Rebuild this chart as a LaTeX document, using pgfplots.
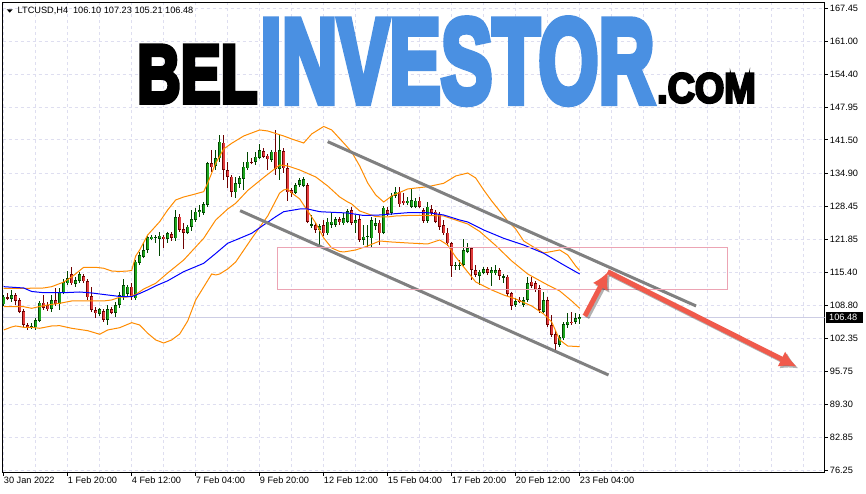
\documentclass[border=0pt]{standalone}
\usepackage{pgfplots}
\pgfplotsset{compat=1.18}
\usepackage{pgfplotstable}
\usepackage{fontspec}
\usetikzlibrary{arrows.meta}
\setmainfont{Liberation Sans}
\newfontfamily\logofat{Liberation Sans Bold}[FakeBold=6]

\definecolor{gridc}{RGB}{222,222,240}
\definecolor{pricec}{RGB}{205,205,228}
\definecolor{bandc}{RGB}{255,140,0}
\definecolor{bullin}{RGB}{30,165,30}
\definecolor{bullout}{RGB}{0,70,0}
\definecolor{bearin}{RGB}{225,60,60}
\definecolor{bearout}{RGB}{110,0,0}
\definecolor{chanc}{RGB}{128,128,128}
\definecolor{rectc}{RGB}{236,164,180}
\definecolor{arrowc}{RGB}{240,90,75}
\definecolor{logoblue}{RGB}{74,144,226}

% LTCUSD H4 candles: bar index, open, high, low, close
\pgfplotstableread{
i o h l c
0 109.07 110.91 108.74 110.57
1 110.45 111.22 109.92 110.18
2 110.12 111.89 109.59 110.91
3 110.91 111.05 108.88 109.78
4 109.92 110.06 107.41 107.61
5 107.75 107.94 104.53 104.99
6 104.99 105.44 104.00 104.53
7 104.66 105.32 104.14 104.79
8 104.53 106.23 104.00 105.97
9 105.83 109.59 105.64 109.39
10 109.39 110.91 107.94 108.40
11 108.93 109.59 107.80 108.08
12 108.14 110.91 107.61 109.92
13 109.92 112.23 108.93 109.13
14 109.13 112.23 107.94 111.44
15 111.36 114.00 111.10 113.41
16 113.21 115.69 112.88 114.20
17 114.98 116.37 112.88 113.21
18 113.07 114.51 112.54 113.86
19 113.72 115.38 113.33 114.98
20 114.65 114.98 113.21 113.60
21 113.66 114.00 109.92 110.45
22 110.71 112.54 107.75 107.94
23 107.94 108.60 106.30 107.29
24 107.15 108.27 106.76 108.08
25 107.75 108.20 105.64 105.97
26 105.97 108.93 104.99 108.08
27 108.08 108.60 107.15 107.41
28 107.41 109.59 106.50 108.93
29 108.93 111.56 108.27 110.91
30 110.57 114.00 109.92 112.88
31 111.10 112.88 110.71 112.54
32 112.54 113.27 109.92 110.45
33 110.25 117.80 110.12 117.47
34 117.27 119.38 116.82 118.79
35 118.45 121.10 118.14 119.78
36 119.78 122.74 119.24 122.28
37 122.01 122.74 121.75 122.40
38 122.28 122.34 121.10 122.30
39 122.01 123.39 118.60 122.60
40 122.40 122.74 120.11 122.01
41 122.01 123.19 121.22 123.07
42 122.93 123.07 121.61 122.14
43 122.08 127.67 121.61 126.22
44 126.34 126.82 123.39 123.72
45 123.92 125.16 119.97 123.19
46 123.19 124.71 123.07 124.37
47 124.37 127.67 123.53 125.89
48 125.69 128.00 125.36 127.33
49 127.33 128.65 126.34 127.67
50 127.14 128.99 126.68 128.85
51 128.65 137.00 128.45 136.88
52 136.88 139.50 135.22 136.09
53 136.40 139.50 135.55 137.86
54 137.86 142.46 137.19 141.14
55 140.94 142.46 133.58 135.55
56 135.55 137.19 131.94 134.23
57 134.23 134.57 130.17 131.27
58 131.16 134.23 130.09 132.93
59 132.74 134.43 132.07 133.92
60 133.78 137.19 131.61 136.21
61 135.89 139.17 135.75 137.19
62 137.19 137.98 136.88 136.99
63 137.19 139.17 136.54 138.17
64 137.98 140.62 137.86 139.50
65 139.30 139.84 137.98 138.17
66 138.37 138.65 135.55 137.66
67 137.53 139.50 137.33 139.17
68 139.17 143.44 134.57 135.75
69 135.75 142.46 133.58 139.50
70 139.30 139.84 134.91 135.89
71 135.89 136.88 129.44 131.16
72 131.61 131.81 130.29 131.08
73 131.08 132.93 130.82 132.60
74 132.60 133.92 132.26 133.58
75 132.46 133.92 132.26 133.78
76 132.60 132.93 125.04 125.36
77 124.71 126.68 124.18 124.85
78 124.71 125.24 123.07 123.72
79 123.72 124.71 120.62 124.51
80 124.71 125.69 122.60 123.07
81 123.07 126.03 122.74 125.36
82 124.71 127.21 124.06 125.36
83 124.71 126.34 124.37 125.89
84 125.89 126.15 124.71 125.24
85 125.04 127.02 124.71 126.03
86 125.36 127.80 125.04 127.47
87 127.67 128.32 124.71 125.16
88 125.04 126.68 123.13 125.69
89 125.83 126.68 121.55 121.75
90 121.75 124.71 120.76 122.40
91 122.40 124.71 120.11 122.54
92 122.08 126.34 120.11 125.69
93 124.51 126.09 123.72 125.10
94 125.16 125.69 120.76 123.07
95 123.19 128.32 123.07 128.12
96 127.67 128.32 126.68 126.88
97 127.02 130.96 126.68 130.43
98 130.43 132.14 130.17 131.27
99 131.27 132.14 128.32 128.79
100 129.50 130.96 128.65 128.99
101 128.99 130.29 128.85 129.50
102 128.32 131.94 128.20 129.64
103 128.32 129.97 128.00 129.50
104 129.50 130.29 128.20 128.32
105 127.67 128.00 125.04 125.50
106 125.50 129.30 125.36 128.32
107 127.80 128.65 126.68 127.02
108 127.33 127.67 125.04 125.36
109 126.88 127.33 123.72 124.37
110 124.71 125.69 122.74 123.07
111 123.19 124.06 120.57 121.10
112 121.10 121.42 114.40 116.62
113 116.76 117.47 115.83 116.82
114 116.62 117.80 115.83 116.82
115 116.82 121.89 116.62 119.78
116 119.45 121.22 119.19 120.11
117 120.11 120.43 113.86 115.83
118 115.83 116.82 114.40 114.85
119 114.65 115.83 112.88 115.50
120 115.30 116.49 115.04 116.03
121 116.03 116.49 114.85 115.30
122 115.17 116.49 112.68 115.83
123 115.17 116.82 114.85 115.83
124 115.83 116.17 113.86 114.65
125 114.40 114.85 113.21 114.65
126 114.51 114.85 110.91 111.10
127 111.22 111.56 107.94 108.74
128 108.93 110.25 108.60 109.72
129 109.92 110.57 109.26 109.59
130 108.93 110.57 108.74 109.92
131 109.92 114.40 109.59 113.21
132 113.53 114.40 112.42 112.68
133 113.21 113.72 111.56 111.89
134 112.23 112.88 107.29 107.94
135 107.61 111.56 107.29 109.92
136 109.92 110.57 104.66 104.99
137 104.99 106.96 102.68 103.01
138 103.21 104.00 99.72 101.24
139 101.04 103.01 100.84 102.56
140 102.35 105.64 102.16 105.18
141 104.99 107.29 104.33 105.64
142 105.64 107.61 104.99 105.32
143 105.64 107.29 105.18 106.30
144 106.10 107.23 105.21 106.48
}\candles

\begin{document}
\begin{tikzpicture}
\path[use as bounding box, fill=white] (0pt,0pt) rectangle (866pt,494pt);
\begin{axis}[
  at={(2.7pt,21pt)}, anchor=south west,
  scale only axis, width=822pt, height=470.3pt,
  xmin=-0.25, xmax=205.25, ymin=75.79, ymax=168.55,
  axis line style={black, line width=1pt},
  tick align=outside, major tick length=3pt,
  every tick/.style={black, line width=0.8pt},
  xtick pos=left, ytick pos=right, yticklabel pos=right,
  xtick={0,16,...,144},
  xticklabels={30 Jan 2022, 1 Feb 20:00, 4 Feb 12:00, 7 Feb 04:00, 9 Feb 20:00,
    12 Feb 12:00, 15 Feb 04:00, 17 Feb 20:00, 20 Feb 12:00, 23 Feb 04:00},
  minor xtick={8,24,40,56,72,88,104,120,136,152,160,168,176,184,192,200},
  minor tick length=0pt,
  ytick={76.25,82.85,89.30,95.75,102.35,108.80,115.40,121.85,128.45,134.90,141.50,147.95,154.40,161.00,167.45},
  yticklabels={76.25,82.85,89.30,95.75,102.35,108.80,115.40,121.85,128.45,134.90,141.50,147.95,154.40,161.00,167.45},
  xmajorgrids, xminorgrids, ymajorgrids,
  major grid style={gridc, line width=0.8pt, dash pattern=on 3pt off 3pt},
  minor grid style={gridc, line width=0.8pt, dash pattern=on 3pt off 3pt},
  ticklabel style={font=\fontsize{9.2}{10}\selectfont, inner sep=0pt},
  xticklabel style={anchor=north west, yshift=-1pt},
  yticklabel style={anchor=west, xshift=2pt},
]
% current price line
\draw[pricec, line width=1pt] (-0.25,106.48) -- (205.25,106.48);

% wicks
\addplot[draw=none, mark=none, forget plot,
  error bars/.cd, y dir=both, y explicit, error mark=none,
  error bar style={draw=bullout, line width=1pt}]
  table[x=i, y expr={\thisrow{c}>=\thisrow{o} ? (\thisrow{h}+\thisrow{l})/2 : nan},
        y error expr={(\thisrow{h}-\thisrow{l})/2}] {\candles};
\addplot[draw=none, mark=none, forget plot,
  error bars/.cd, y dir=both, y explicit, error mark=none,
  error bar style={draw=bearout, line width=1pt}]
  table[x=i, y expr={\thisrow{c}<\thisrow{o} ? (\thisrow{h}+\thisrow{l})/2 : nan},
        y error expr={(\thisrow{h}-\thisrow{l})/2}] {\candles};
% bodies, dark edge
\addplot[draw=none, mark=none, forget plot,
  error bars/.cd, y dir=both, y explicit, error mark=-,
  error mark options={draw=bullout, line width=1pt, mark size=1.7pt},
  error bar style={draw=bullout, line width=3.4pt}]
  table[x=i, y expr={\thisrow{c}>=\thisrow{o} ? (\thisrow{o}+\thisrow{c})/2 : nan},
        y error expr={abs(\thisrow{c}-\thisrow{o})/2}] {\candles};
\addplot[draw=none, mark=none, forget plot,
  error bars/.cd, y dir=both, y explicit, error mark=-,
  error mark options={draw=bearout, line width=1pt, mark size=1.7pt},
  error bar style={draw=bearout, line width=3.4pt}]
  table[x=i, y expr={\thisrow{c}<\thisrow{o} ? (\thisrow{o}+\thisrow{c})/2 : nan},
        y error expr={abs(\thisrow{c}-\thisrow{o})/2}] {\candles};
% bodies, fill
\addplot[draw=none, mark=none, forget plot,
  error bars/.cd, y dir=both, y explicit, error mark=none,
  error bar style={draw=bullin, line width=1.6pt}]
  table[x=i, y expr={\thisrow{c}>=\thisrow{o} ? (\thisrow{o}+\thisrow{c})/2 : nan},
        y error expr={max(abs(\thisrow{c}-\thisrow{o})/2-0.15,0)}] {\candles};
\addplot[draw=none, mark=none, forget plot,
  error bars/.cd, y dir=both, y explicit, error mark=none,
  error bar style={draw=bearin, line width=1.6pt}]
  table[x=i, y expr={\thisrow{c}<\thisrow{o} ? (\thisrow{o}+\thisrow{c})/2 : nan},
        y error expr={max(abs(\thisrow{c}-\thisrow{o})/2-0.15,0)}] {\candles};

% Bollinger bands
\addplot[bandc, line width=1pt] coordinates {
(0,112.22)(6,112.22)(10,112.28)(12,112.54)(15,113.45)(17,114.45)(20,116.36)(23,116.36)
(25,116.17)(27,115.63)(29,115.54)(31,115.63)(32,115.73)(33,118.59)(34,119.78)(36,122.74)
(39,125.36)(41,127.67)(43,129.64)(45,130.23)(47,130.63)(50,131.28)(51,132.99)(53,136.88)
(55,139.70)(57,140.82)(60,142.26)(64,143.45)(66,143.25)(70,142.26)(72,141.67)(75,140.88)
(77,142.66)(80,144.14)(82,143.45)(85,140.88)(87,139.11)(89,136.35)(91,132.99)(93,130.63)
(95,129.24)(97,130.43)(101,131.81)(106,132.26)(110,132.93)(113,134.37)(116,134.96)
(118,133.98)(120,131.61)(122,129.44)(124,127.47)(126,125.50)(128,123.92)(130,121.55)
(132,120.57)(135,119.19)(137,119.48)(139,119.78)(141,118.79)(143,116.62)(144,115.73)};
\addplot[bandc, line width=1pt] coordinates {
(0,108.59)(5,108.59)(7,108.27)(9,108.63)(11,108.93)(14,109.26)(17,109.72)(21,109.72)
(25,109.72)(27,109.92)(29,110.45)(31,110.51)(33,111.00)(35,112.08)(38,113.21)(41,115.24)
(45,117.80)(50,122.09)(53,125.69)(56,127.86)(58,128.99)(61,131.51)(65,134.08)(69,136.54)
(71,136.35)(74,135.56)(78,134.18)(81,132.40)(84,130.23)(86,129.24)(87,128.85)(89,127.47)
(93,126.35)(96,126.29)(98,126.48)(101,126.58)(106,126.58)(110,126.48)(113,125.69)
(116,124.91)(119,123.43)(123,120.66)(127,117.61)(131,115.04)(136,112.87)(139,111.69)
(142,109.72)(144,108.27)};
\addplot[bandc, line width=1pt] coordinates {
(0,104.00)(2,104.59)(3,104.79)(5,104.53)(7,104.53)(9,104.33)(12,104.79)(14,104.85)
(17,104.33)(21,103.86)(24,103.15)(26,104.00)(29,104.45)(32,105.44)(34,104.98)(36,103.35)
(38,102.03)(40,101.43)(42,102.03)(44,103.21)(46,105.77)(48,109.92)(50,112.48)(52,115.04)
(53,114.85)(54,115.04)(56,116.03)(58,117.41)(62,122.05)(66,126.48)(69,131.02)(70,131.61)
(71,131.81)(72,131.02)(74,129.84)(76,127.47)(78,125.10)(80,122.15)(82,120.17)(84,119.48)
(85,119.38)(88,119.78)(91,120.57)(94,121.55)(97,121.35)(101,121.16)(106,120.96)
(109,121.75)(111,120.76)(113,118.40)(115,116.42)(118,113.47)(122,111.89)(125,110.90)
(128,110.11)(132,108.73)(135,107.15)(137,105.58)(139,102.03)(141,100.84)(144,100.71)};
% moving average
\addplot[blue, line width=1pt] coordinates {
(0,112.54)(5,112.28)(7,111.59)(10,111.35)(15,111.35)(19,111.49)(22,111.30)(25,111.00)
(29,110.61)(32,110.57)(34,111.20)(36,111.90)(38,112.70)(41,113.70)(45,115.50)(50,117.15)
(53,119.09)(56,121.10)(58,121.75)(62,123.07)(65,124.71)(68,126.34)(70,127.33)(74,127.86)
(76,127.86)(79,127.33)(82,127.21)(86,127.07)(90,126.58)(94,126.68)(97,126.88)(101,127.13)
(106,127.13)(110,126.68)(114,125.69)(116,125.30)(120,123.72)(125,122.08)(130,120.76)
(135,119.13)(140,116.82)(144,115.04)};

% channel, zone and arrows
\draw[chanc, line width=3pt] (81.0,141.14) -- (173.1,108.73);
\draw[chanc, line width=3pt] (59.1,127.53) -- (151.2,95.12);
\draw[rectc, line width=1pt] (68.4,112.03) rectangle (180.9,120.31);
\draw[black, opacity=0.3, line width=5pt, -{Latex[length=17pt,width=17pt]}]
  (145.8,106.4) -- (151.6,115.1);
\draw[black, opacity=0.3, line width=5pt, -{Latex[length=17pt,width=17pt]}]
  (151.5,115.1) -- (198.7,96.4);
\draw[arrowc, line width=5pt, -{Latex[length=17pt,width=17pt]}]
  (145.3,106.76) -- (151.15,115.50);
\draw[arrowc, line width=5pt, -{Latex[length=17pt,width=17pt]}]
  (151.0,115.5) -- (198.25,96.76);
\end{axis}

% header
\fill[black] (6.7pt,484.7pt) -- (12.7pt,484.7pt) -- (9.7pt,481.3pt) -- cycle;
\node[anchor=base west, inner sep=0pt, font=\fontsize{9.2}{10}\selectfont]
  at (17.5pt,480.5pt) {LTCUSD,H4\hspace{5pt}106.10 107.23 105.21 106.48};
% last price label
\fill[black] (826pt,170.7pt) rectangle (862.7pt,182.3pt);
\node[anchor=west, inner sep=0pt, text=white, font=\fontsize{9.2}{10}\selectfont]
  at (829pt,176.5pt) {106.48};

% logo
\node[anchor=base west, inner sep=0pt, text=black] at (137pt,391.5pt)
  {\scalebox{0.73}[1]{\logofat\fontsize{82.4}{82}\selectfont BEL}};
\node[anchor=base west, inner sep=0pt, text=logoblue] at (260pt,391.5pt)
  {\scalebox{0.645}[1]{\logofat\fontsize{120}{120}\selectfont INVESTOR}};
\node[anchor=base west, inner sep=0pt, text=black] at (657pt,391.5pt)
  {\scalebox{0.9}[1]{\logofat\fontsize{41.9}{42}\selectfont .COM}};
\end{tikzpicture}
\end{document}
